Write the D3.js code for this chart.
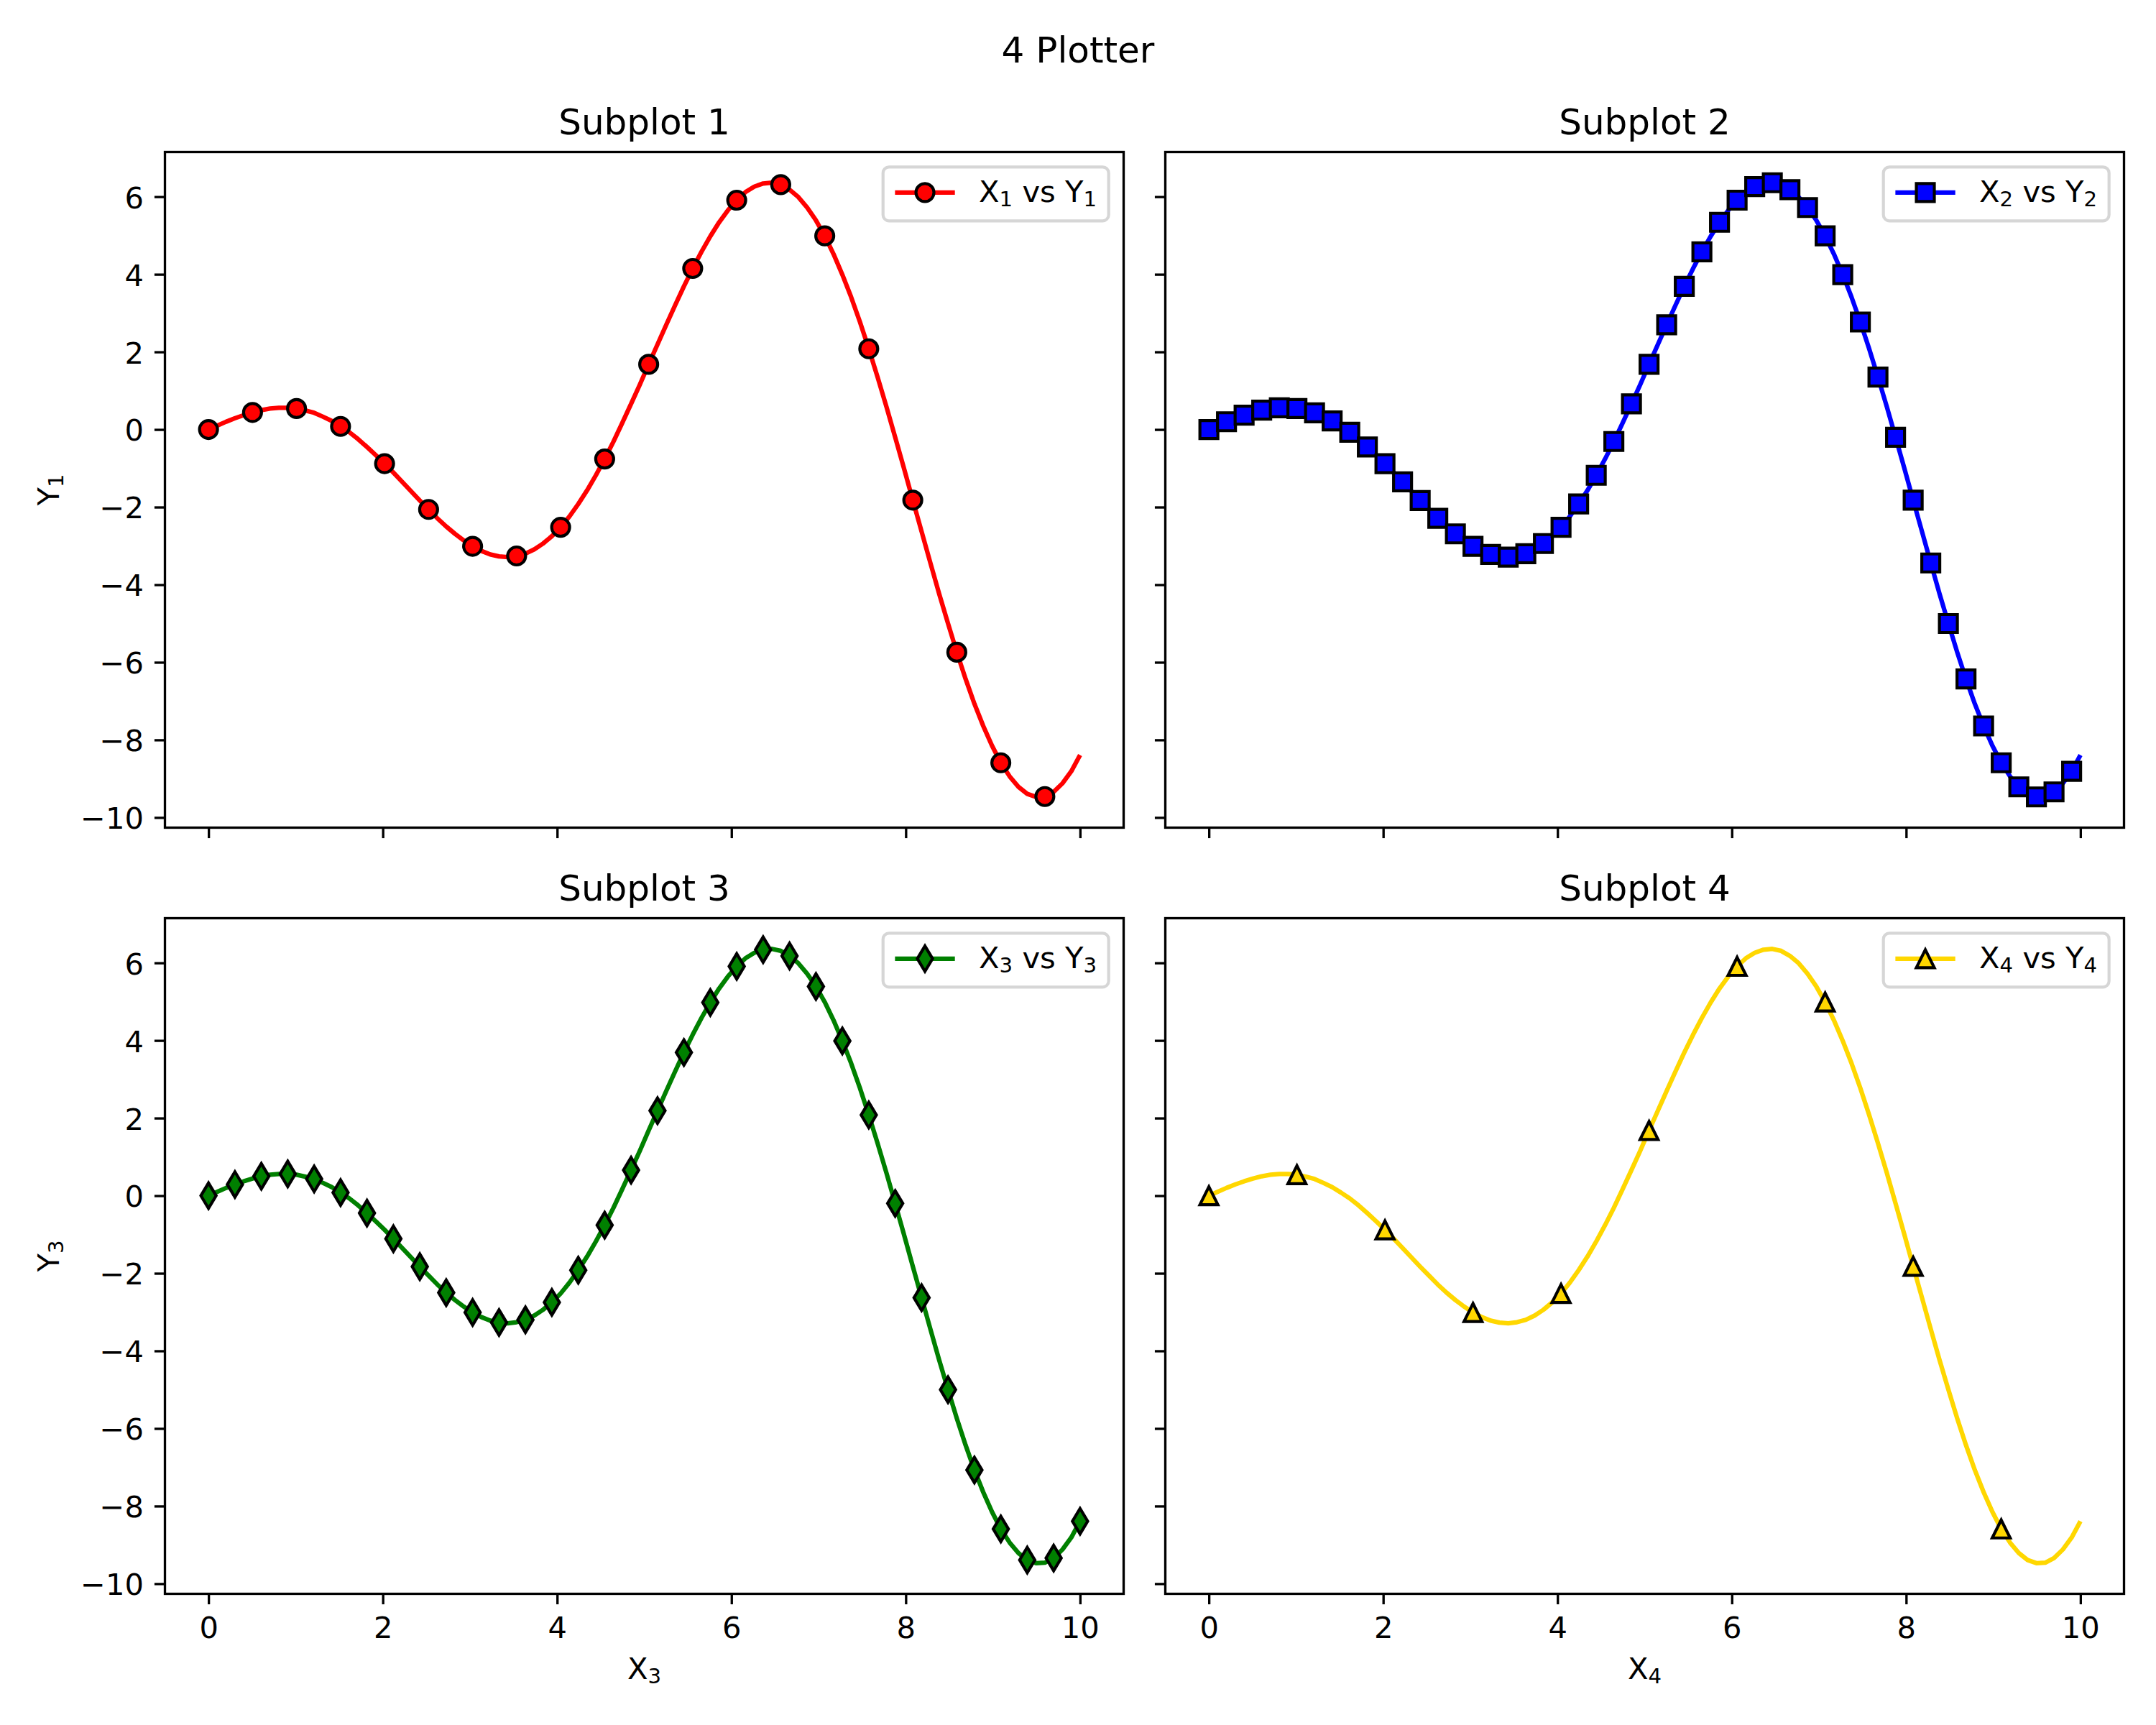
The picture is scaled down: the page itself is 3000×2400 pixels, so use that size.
<!DOCTYPE html>
<html>
<head>
<meta charset="utf-8">
<script src="https://cdn.jsdelivr.net/npm/d3@7"></script>
<style>
  body { margin: 0; background: #fff; }
  svg text { font-family: 'DejaVu Sans', sans-serif; fill: #000; }
</style>
</head>
<body>
<div id="graf"></div>
<script>
// I. Datos
xInicio = 0
xFin = 10
// 100 puntos equiespaciados entre xInicio y xFin
yValores = [
  0.00, 0.10, 0.20, 0.29, 0.37, 0.44, 0.50, 0.54, 0.56, 0.56,
  0.54, 0.49, 0.43, 0.33, 0.22, 0.08, -0.07, -0.25, -0.45, -0.66,
  -0.88, -1.11, -1.35, -1.59, -1.83, -2.06, -2.29, -2.50, -2.69, -2.86,
  -3.01, -3.13, -3.22, -3.27, -3.29, -3.26, -3.20, -3.09, -2.94, -2.75,
  -2.52, -2.24, -1.92, -1.57, -1.18, -0.76, -0.31, 0.17, 0.66, 1.16,
  1.68, 2.19, 2.70, 3.20, 3.69, 4.15, 4.58, 4.98, 5.34, 5.65,
  5.91, 6.12, 6.26, 6.34, 6.36, 6.31, 6.18, 5.99, 5.72, 5.39,
  4.99, 4.52, 3.99, 3.41, 2.77, 2.08, 1.35, 0.59, -0.20, -1.00,
  -1.82, -2.63, -3.44, -4.24, -5.00, -5.74, -6.43, -7.07, -7.64, -8.15,
  -8.59, -8.94, -9.21, -9.39, -9.47, -9.46, -9.34, -9.12, -8.81, -8.39
]
xTicks = [0, 2, 4, 6, 8, 10]
yTicks = [-10, -8, -6, -4, -2, 0, 2, 4, 6]

tituloGeneral = '4 Plotter'
titulos = ['Subplot 1', 'Subplot 2', 'Subplot 3', 'Subplot 4']
// "_n" = subíndice
leyendas = ['X_1 vs Y_1', 'X_2 vs Y_2', 'X_3 vs Y_3', 'X_4 vs Y_4']
etiquetasX = ['', '', 'X_3', 'X_4']
etiquetasY = ['Y_1', '', 'Y_3', '']
// marcador cada n puntos
cadaN = [5, 2, 3, 10]

// II. Estilos
colores = ['#ff0000', '#0000ff', '#008000', '#ffd700']
simbolos = ['circulo', 'cuadrado', 'diamante', 'triangulo']

// III. Configuración (figura 10x8 in a 300 dpi)
pt = 300 / 72
ancho_total = 3000
alto_total = 2400
fs = 10 * pt        // 41.67px
fsTitulo = 12 * pt  // 50px

izquierdas = [229.5, 1621.5]
arribas = [211.5, 1277.5]
ancho = 1334
alto = 940

svg = d3.select('#graf').append('svg')
  .attr('width', ancho_total)
  .attr('height', alto_total)

svg.append('rect').attr('width', ancho_total).attr('height', alto_total).attr('fill', '#fff')

svg.append('text')
  .attr('x', 1500).attr('y', 87)
  .attr('text-anchor', 'middle')
  .style('font-size', fsTitulo + 'px')
  .text(tituloGeneral)

// escribe "X_1 vs Y_1" con subíndices como tspans
function conSubindices(sel, s) {
  partes = s.split(/(_\d)/).filter(p => p)
  bajado = false
  partes.forEach(p => {
    if (p[0] == '_') {
      sel.append('tspan').attr('dy', 6).style('font-size', (0.7 * fs) + 'px').text(p.slice(1))
      bajado = true
    } else {
      t = sel.append('tspan').text(p)
      if (bajado) t.attr('dy', -6)
      bajado = false
    }
  })
}

// escalas compartidas
indice = d3.scaleLinear().domain([0, yValores.length - 1]).range([xInicio, xFin])
xPad = (xFin - xInicio) * 0.05
x = d3.scaleLinear().domain([xInicio - xPad, xFin + xPad]).range([0, ancho])
ext = d3.extent(yValores)
yPad = (ext[1] - ext[0]) * 0.05
y = d3.scaleLinear().domain([ext[0] - yPad, ext[1] + yPad]).range([alto, 0])

puntos = yValores.map((v, i) => ({ x: indice(i), y: v }))

linea = d3.line()
  .x(d => x(d.x))
  .y(d => y(d.y))

function marcador(tipo) {
  s = 6 * pt
  if (tipo == 'circulo') return d3.symbol(d3.symbolCircle, Math.PI * (s / 2) * (s / 2))()
  if (tipo == 'cuadrado') return d3.symbol(d3.symbolSquare, s * s)()
  if (tipo == 'diamante') {
    a = s * Math.SQRT2 / 2
    return `M0,${-a}L${0.6 * a},0L0,${a}L${-0.6 * a},0Z`
  }
  h = s / 2
  return `M0,${-h}L${h},${h}L${-h},${h}Z`
}

// IV. Dibujo de cada panel
function render(k) {
  fila = Math.floor(k / 2)
  col = k % 2
  g = svg.append('g')
    .attr('transform', `translate(${izquierdas[col]}, ${arribas[fila]})`)

  // ejes (compartidos: sin etiquetas en la fila de arriba / columna derecha)
  ejeX = d3.axisBottom(x).tickValues(xTicks).tickSize(3.5 * pt).tickPadding(17)
  ejeY = d3.axisLeft(y).tickValues(yTicks).tickSize(3.5 * pt).tickPadding(15)

  gx = g.append('g').attr('transform', `translate(0, ${alto})`).call(ejeX)
  gy = g.append('g').call(ejeY)
  ;[gx, gy].forEach(e => {
    e.select('.domain').remove()
    e.selectAll('line').attr('stroke', '#000').attr('stroke-width', 0.8 * pt)
    e.selectAll('text')
      .style('font-size', fs + 'px')
      .style('font-family', "'DejaVu Sans', sans-serif")
      .attr('fill', '#000')
  })
  gy.selectAll('text').attr('dy', '0.37em')
  if (fila == 0) gx.selectAll('text').remove()
  if (col == 1) gy.selectAll('text').remove()

  // curva
  g.append('path')
    .datum(puntos)
    .attr('d', linea)
    .attr('fill', 'none')
    .attr('stroke', colores[k])
    .attr('stroke-width', 1.5 * pt)
    .attr('stroke-linejoin', 'round')

  // marcadores
  g.selectAll('.marca')
    .data(puntos.filter((d, i) => i % cadaN[k] == 0))
    .enter()
    .append('path')
    .attr('class', 'marca')
    .attr('transform', d => `translate(${x(d.x)}, ${y(d.y)})`)
    .attr('d', marcador(simbolos[k]))
    .attr('fill', colores[k])
    .attr('stroke', '#000')
    .attr('stroke-width', 1 * pt)
    .attr('stroke-linejoin', 'miter')

  // marco
  g.append('rect')
    .attr('width', ancho).attr('height', alto)
    .attr('fill', 'none')
    .attr('stroke', '#000')
    .attr('stroke-width', 0.8 * pt)

  // títulos y etiquetas
  g.append('text')
    .attr('x', ancho / 2).attr('y', -6 * pt)
    .attr('text-anchor', 'middle')
    .style('font-size', fsTitulo + 'px')
    .text(titulos[k])

  if (etiquetasX[k]) {
    tx = g.append('text')
      .attr('x', ancho / 2).attr('y', alto + 118)
      .attr('text-anchor', 'middle')
      .style('font-size', fs + 'px')
    conSubindices(tx, etiquetasX[k])
  }
  if (etiquetasY[k]) {
    ty = g.append('text')
      .attr('transform', `translate(${82 - izquierdas[col]}, ${alto / 2}) rotate(-90)`)
      .attr('text-anchor', 'middle')
      .style('font-size', fs + 'px')
    conSubindices(ty, etiquetasY[k])
  }

  // leyenda
  ley = g.append('g')
  caja = ley.append('rect')
  txt = ley.append('text')
    .style('font-size', fs + 'px')
    .attr('y', 49)
  conSubindices(txt, leyendas[k])
  tw = txt.node().getComputedTextLength()
  bp = 0.4 * fs
  anchoLey = bp + 2 * fs + 0.8 * fs + tw + bp
  x0 = ancho - 0.5 * fs - anchoLey
  y0 = 0.5 * fs
  ley.attr('transform', `translate(${x0}, ${y0})`)
  caja.attr('width', anchoLey).attr('height', 75)
    .attr('rx', 0.2 * fs).attr('ry', 0.2 * fs)
    .attr('fill', 'rgba(255,255,255,0.8)')
    .attr('stroke', 'rgba(204,204,204,0.8)')
    .attr('stroke-width', 1 * pt)
  txt.attr('x', bp + 2 * fs + 0.8 * fs)
  ley.append('line')
    .attr('x1', bp).attr('x2', bp + 2 * fs)
    .attr('y1', 35.5).attr('y2', 35.5)
    .attr('stroke', colores[k])
    .attr('stroke-width', 1.5 * pt)
  ley.append('path')
    .attr('transform', `translate(${bp + fs}, 35.5)`)
    .attr('d', marcador(simbolos[k]))
    .attr('fill', colores[k])
    .attr('stroke', '#000')
    .attr('stroke-width', 1 * pt)
}

// V. Despliegue
titulos.forEach((t, k) => render(k))
</script>
</body>
</html>
